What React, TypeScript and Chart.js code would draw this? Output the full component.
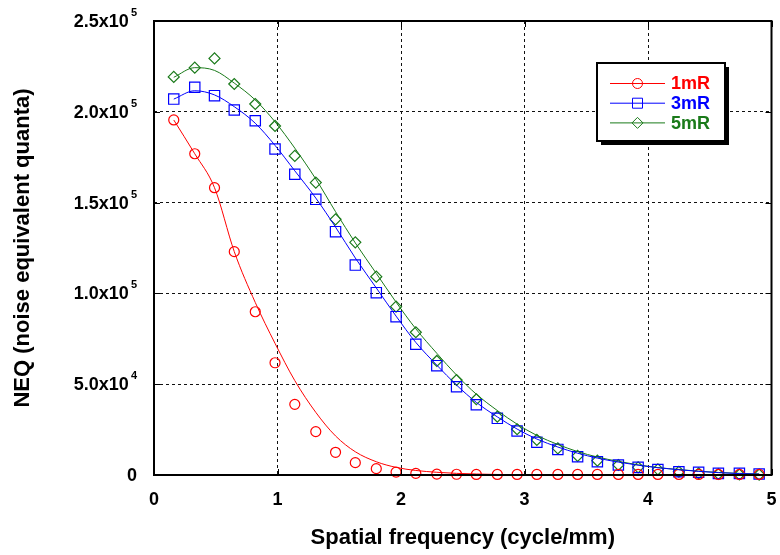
import React, { useEffect, useRef } from 'react';
import { Chart, registerables } from 'chart.js';

Chart.register(...registerables);

// Spatial frequency (cycle/mm) of each sample
const freq = [0.16, 0.33, 0.49, 0.65, 0.82, 0.98, 1.14, 1.31, 1.47, 1.63, 1.8, 1.96, 2.12, 2.29, 2.45, 2.61, 2.78, 2.94, 3.1, 3.27, 3.43, 3.59, 3.76, 3.92, 4.08, 4.25, 4.41, 4.57, 4.74, 4.9];

// Measured NEQ (markers)
const neq1mR = [195500, 176900, 158200, 123000, 89900, 61800, 38900, 23900, 12500, 6800, 3500, 1600, 900, 500, 400, 300, 300, 300, 300, 300, 300, 300, 300, 300, 300, 300, 300, 300, 300, 300];
const neq3mR = [207000, 213500, 208900, 201000, 195100, 179500, 165600, 151800, 134000, 115600, 100400, 87200, 72000, 60200, 48600, 38700, 31200, 24200, 18000, 14100, 10100, 7300, 5500, 4200, 3000, 1800, 1500, 900, 900, 550];
const neq5mR = [219200, 224300, 229400, 215300, 204300, 192200, 175700, 161000, 140800, 128100, 109200, 92700, 78600, 62800, 52300, 41700, 32100, 25200, 19300, 14700, 10500, 7900, 5500, 4200, 3100, 1800, 900, 550, 300, 200];

// Fitted NEQ curves (lines)
const fit1mR = [195500, 176900, 158200, 123000, 95000, 72500, 52000, 34500, 21500, 12800, 7300, 4200, 2500, 1500, 900, 550, 300, 200, 100, 60, 30, 20, 10, 0, 0, 0, 0, 0, 0, 0];
const fit3mR = [207000, 211600, 209300, 202800, 193700, 181500, 167500, 152500, 136500, 119500, 103000, 87500, 73000, 60500, 49500, 40000, 32000, 25300, 19800, 15400, 12000, 9300, 7100, 5400, 4000, 2900, 2000, 1300, 800, 500];
const fit5mR = [219000, 224300, 222800, 215800, 206500, 194500, 180000, 163000, 145000, 127800, 111000, 95200, 80500, 67000, 55000, 44500, 35500, 28000, 21800, 16800, 12900, 9900, 7500, 5600, 4100, 3000, 2100, 1400, 900, 600];

const seriesLabels = ['1mR', '3mR', '5mR'];
const seriesColors = ['#ff0000', '#0000ff', '#1a7a1a'];
const seriesMarkers = ['circle', 'rect', 'rectRot'];

const xTicks = [0, 1, 2, 3, 4, 5];
const yTicks = [0, 50000, 100000, 150000, 200000, 250000];
const yTickMantissa = ['0', '5.0x10', '1.0x10', '1.5x10', '2.0x10', '2.5x10'];
const yTickExponent = ['', '4', '5', '5', '5', '5'];

const FONT = '"Liberation Sans", Arial, Helvetica, sans-serif';

function drawMarker(ctx: CanvasRenderingContext2D, style: string, x: number, y: number) {
  ctx.beginPath();
  if (style === 'circle') {
    ctx.arc(x, y, 5, 0, Math.PI * 2);
  } else if (style === 'rect') {
    ctx.rect(x - 5, y - 5, 10, 10);
  } else {
    ctx.moveTo(x - 5.5, y);
    ctx.lineTo(x, y - 5.5);
    ctx.lineTo(x + 5.5, y);
    ctx.lineTo(x, y + 5.5);
    ctx.closePath();
  }
  ctx.stroke();
}

const decorPlugin = {
  id: 'decor',
  afterDraw(chart: any) {
    const { ctx, chartArea, scales } = chart;
    const xs = scales.x;
    const ys = scales.y;
    ctx.save();
    // frame
    ctx.strokeStyle = '#000';
    ctx.lineWidth = 2;
    ctx.setLineDash([]);
    ctx.strokeRect(chartArea.left, chartArea.top, chartArea.right - chartArea.left, chartArea.bottom - chartArea.top);
    // inner ticks
    ctx.lineWidth = 1;
    yTicks.forEach((v) => {
      const y = Math.round(ys.getPixelForValue(v)) + 0.5;
      ctx.beginPath();
      ctx.moveTo(chartArea.left, y);
      ctx.lineTo(chartArea.left + 6, y);
      ctx.moveTo(chartArea.right, y);
      ctx.lineTo(chartArea.right - 6, y);
      ctx.stroke();
    });
    xTicks.forEach((v) => {
      const x = Math.round(xs.getPixelForValue(v)) + 0.5;
      ctx.beginPath();
      ctx.moveTo(x, chartArea.bottom);
      ctx.lineTo(x, chartArea.bottom - 6);
      ctx.moveTo(x, chartArea.top);
      ctx.lineTo(x, chartArea.top + 6);
      ctx.stroke();
    });
    // y tick labels with superscript exponents
    ctx.fillStyle = '#000';
    ctx.textBaseline = 'middle';
    const rightEdge = chartArea.left - 17;
    yTicks.forEach((v, i) => {
      const y = ys.getPixelForValue(v);
      ctx.font = `bold 11px ${FONT}`;
      const ew = yTickExponent[i] ? ctx.measureText(yTickExponent[i]).width : 0;
      if (yTickExponent[i]) {
        ctx.textAlign = 'left';
        ctx.fillText(yTickExponent[i], rightEdge - ew, y - 8);
      }
      ctx.font = `bold 18px ${FONT}`;
      ctx.textAlign = 'right';
      ctx.fillText(yTickMantissa[i], rightEdge - (ew ? ew + 2 : 0), y + 1);
    });
    // x tick labels
    ctx.font = `bold 18px ${FONT}`;
    ctx.textAlign = 'center';
    xTicks.forEach((v) => {
      ctx.fillText(String(v), xs.getPixelForValue(v), chartArea.bottom + 25);
    });
    // legend
    const bx = 597, by = 63, bw = 128, bh = 78;
    ctx.fillStyle = '#000';
    ctx.fillRect(bx + 4, by + 4, bw, bh);
    ctx.fillStyle = '#fff';
    ctx.fillRect(bx, by, bw, bh);
    ctx.strokeStyle = '#000';
    ctx.lineWidth = 2;
    ctx.strokeRect(bx, by, bw, bh);
    seriesLabels.forEach((label, i) => {
      const y = by + 20.5 + i * 19.7;
      ctx.strokeStyle = seriesColors[i];
      ctx.lineWidth = 1;
      ctx.beginPath();
      ctx.moveTo(610, y);
      ctx.lineTo(665, y);
      ctx.stroke();
      ctx.fillStyle = '#fff';
      drawMarker(ctx, seriesMarkers[i], 637.5, y);
      ctx.fillStyle = seriesColors[i];
      ctx.font = `bold 18px ${FONT}`;
      ctx.textAlign = 'left';
      ctx.textBaseline = 'middle';
      ctx.fillText(label, 671, y + 1);
    });
    ctx.restore();
  },
};

export default function App() {
  const canvasRef = useRef<HTMLCanvasElement | null>(null);

  useEffect(() => {
    if (!canvasRef.current) return;
    const markerSets = [neq1mR, neq3mR, neq5mR];
    const fitSets = [fit1mR, fit3mR, fit5mR];
    const datasets: any[] = [];
    fitSets.forEach((arr, i) => {
      datasets.push({
        label: seriesLabels[i] + ' fit',
        data: freq.map((x, j) => ({ x, y: arr[j] })),
        showLine: true,
        borderColor: seriesColors[i],
        borderWidth: 1,
        pointRadius: 0,
        cubicInterpolationMode: 'monotone',
        clip: false,
      });
    });
    markerSets.forEach((arr, i) => {
      datasets.push({
        label: seriesLabels[i],
        data: freq.map((x, j) => ({ x, y: arr[j] })),
        showLine: false,
        pointStyle: seriesMarkers[i],
        pointRadius: i === 1 ? 7.3 : i === 2 ? 5.5 : 5,
        pointBorderColor: seriesColors[i],
        pointBackgroundColor: 'rgba(0,0,0,0)',
        pointBorderWidth: 1.2,
        clip: false,
      });
    });

    const gridColor = (edgeVals: number[]) => (c: any) =>
      c.tick && edgeVals.includes(c.tick.value) ? 'rgba(0,0,0,0)' : '#111';

    const chart = new Chart(canvasRef.current, {
      type: 'scatter',
      data: { datasets },
      plugins: [decorPlugin],
      options: {
        animation: false,
        responsive: false,
        devicePixelRatio: 1,
        layout: { padding: { left: 0, top: 21, right: 5, bottom: 0 } },
        plugins: { legend: { display: false }, tooltip: { enabled: false } },
        scales: {
          x: {
            type: 'linear',
            min: 0,
            max: 5,
            ticks: { stepSize: 1, display: false },
            grid: { color: gridColor([0, 5]), lineWidth: 1, drawTicks: false },
            border: { display: false, dash: [3, 3] },
            title: {
              display: true,
              text: 'Spatial frequency (cycle/mm)',
              color: '#000',
              font: { family: FONT, size: 22, weight: 'bold' },
              padding: { top: 0, bottom: 4 },
            },
            afterFit: (s: any) => { s.height = 80; },
          },
          y: {
            type: 'linear',
            min: 0,
            max: 250000,
            ticks: { stepSize: 50000, display: false },
            grid: { color: gridColor([0, 250000]), lineWidth: 1, drawTicks: false },
            border: { display: false, dash: [3, 3] },
            title: {
              display: true,
              text: 'NEQ (noise equivalent quanta)',
              color: '#000',
              font: { family: FONT, size: 22, weight: 'bold' },
              padding: { top: 10, bottom: 0 },
            },
            afterFit: (s: any) => { s.width = 154; },
          },
        },
      } as any,
    });
    return () => chart.destroy();
  }, []);

  return (
    <div style={{ position: 'absolute', left: 0, top: 0, width: 780, height: 555, background: '#fff' }}>
      <canvas ref={canvasRef} width={780} height={555} style={{ display: 'block' }} />
    </div>
  );
}
